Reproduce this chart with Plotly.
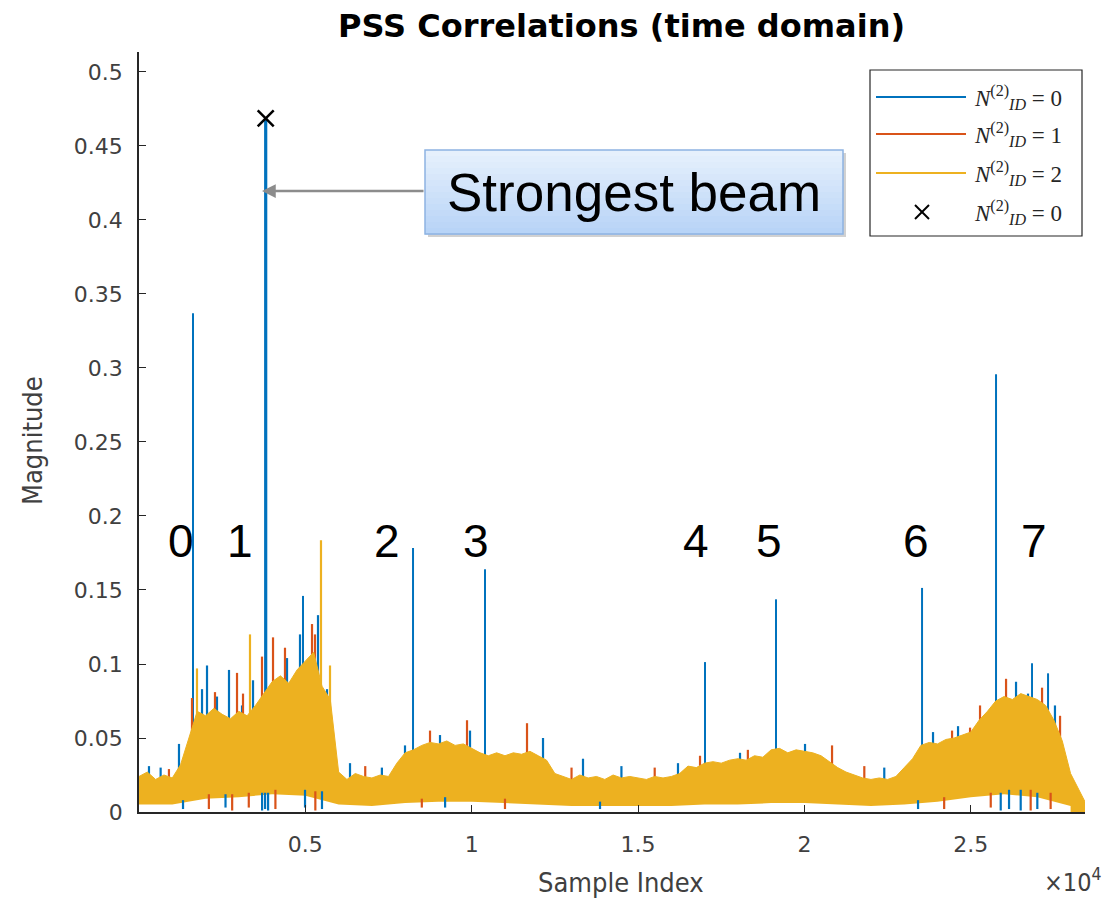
import plotly.graph_objects as go

# ---------------- data ----------------
body_x = list(range(0, 28501, 250))          # sample index grid of the dense band
body_upper = [
    0.024, 0.027, 0.022, 0.025, 0.023, 0.032, 0.050, 0.068, 0.065, 0.070,
    0.066, 0.063, 0.068, 0.065, 0.072, 0.080, 0.088, 0.092, 0.087, 0.096,
    0.102, 0.108, 0.085, 0.076, 0.027, 0.022, 0.026, 0.024, 0.023, 0.025,
    0.024, 0.033, 0.040, 0.042, 0.045, 0.047, 0.046, 0.048, 0.045, 0.046,
    0.043, 0.040, 0.038, 0.040, 0.038, 0.040, 0.039, 0.041, 0.038, 0.035,
    0.026, 0.024, 0.022, 0.025, 0.023, 0.024, 0.022, 0.025, 0.023, 0.024,
    0.023, 0.022, 0.024, 0.023, 0.024, 0.026, 0.031, 0.030, 0.033, 0.034,
    0.033, 0.035, 0.036, 0.035, 0.038, 0.037, 0.042, 0.043, 0.040, 0.042,
    0.041, 0.040, 0.038, 0.034, 0.030, 0.027, 0.025, 0.023, 0.022, 0.023,
    0.022, 0.024, 0.030, 0.036, 0.045, 0.047, 0.046, 0.049, 0.050, 0.052,
    0.054, 0.062, 0.068, 0.075, 0.078, 0.076, 0.080, 0.078, 0.076, 0.072,
    0.062, 0.048, 0.026, 0.015, 0.004,
]
lower_x = list(range(0, 28001, 1000))
body_lower = [
    0.005, 0.005, 0.009, 0.010, 0.012, 0.011, 0.005, 0.004, 0.006, 0.007,
    0.007, 0.006, 0.005, 0.004, 0.004, 0.004, 0.004, 0.005, 0.005, 0.006,
    0.006, 0.005, 0.004, 0.005, 0.007, 0.010, 0.012, 0.010, 0.004,
]

# correlation peaks of N_ID^(2) = 0 (blue)
spike_x = [1623, 4929, 8236, 10400, 17012, 19146, 23535, 25759, 26841, 27322]
spike_y = [0.337, 0.146, 0.1784, 0.164, 0.1013, 0.1437, 0.1514, 0.2958, 0.1005, 0.0937]
peak_x = [3808]
peak_y = [0.4687]

# small noise flecks poking above the band
blue_fleck_x = [300, 650, 1202, 1894, 2044, 2344, 2705, 3096, 3427, 4449, 4839, 5380, 5651,
                6342, 7300, 7995, 9047, 9949, 12143, 13345, 14500, 16200, 18064, 20018,
                22400, 23865, 24617, 26360, 26720, 27530]
blue_fleck_y = [0.031, 0.030, 0.046, 0.083, 0.099, 0.078, 0.096, 0.072, 0.089, 0.104, 0.120, 0.133, 0.083,
                0.033, 0.030, 0.045, 0.052, 0.055, 0.050, 0.036, 0.031, 0.033, 0.040, 0.046,
                0.030, 0.054, 0.058, 0.088, 0.080, 0.072]
orange_fleck_x = [900, 1593, 2284, 2946, 3126, 3697, 4028, 4388, 5200, 5290, 6800, 8747, 9859,
                  11662, 13000, 15500, 16862, 18300, 20830, 21800, 24437, 24978, 25278, 26060,
                  27142, 27683]
orange_fleck_y = [0.029, 0.077, 0.081, 0.094, 0.080, 0.105, 0.118, 0.111, 0.127, 0.120, 0.031, 0.055, 0.062,
                  0.060, 0.030, 0.030, 0.038, 0.042, 0.045, 0.031, 0.055, 0.057, 0.072, 0.090,
                  0.084, 0.065]
yellow_fleck_x = [1743, 3336, 5470, 5741]
yellow_fleck_y = [0.097, 0.120, 0.1836, 0.099]

# low excursions below the band
blue_dip_x = [1323, 2600, 3700, 3790, 3880, 4990, 5500, 9200, 13856, 23415, 25900, 26150, 26500, 27000]
blue_dip_y = [0.002, 0.003, 0.001, 0.002, 0.001, 0.003, 0.002, 0.003, 0.002, 0.002, 0.001, 0.002, 0.001, 0.002]
orange_dip_x = [2100, 2800, 3300, 4100, 5300, 8500, 11000, 24200, 25600, 26800, 27400]
orange_dip_y = [0.002, 0.001, 0.003, 0.002, 0.001, 0.003, 0.002, 0.002, 0.003, 0.001, 0.002]

beam_labels = ["0", "1", "2", "3", "4", "5", "6", "7"]
beam_label_x = [1262, 3036, 7454, 10129, 16742, 18936, 23355, 26901]
beam_label_y = 0.1834

x_tick_vals = [5000, 10000, 15000, 20000, 25000]
x_tick_text = ["0.5", "1", "1.5", "2", "2.5"]
y_tick_vals = [0, 0.05, 0.1, 0.15, 0.2, 0.25, 0.3, 0.35, 0.4, 0.45, 0.5]
y_tick_text = ["0", "0.05", "0.1", "0.15", "0.2", "0.25", "0.3", "0.35", "0.4", "0.45", "0.5"]

legend_names = ["<i>N</i><sup>(2)</sup><sub><i>ID</i></sub> = 0",
                "<i>N</i><sup>(2)</sup><sub><i>ID</i></sub> = 1",
                "<i>N</i><sup>(2)</sup><sub><i>ID</i></sub> = 2",
                "<i>N</i><sup>(2)</sup><sub><i>ID</i></sub> = 0"]

BLUE, ORANGE, YELLOW = "#0072BD", "#D95319", "#EDB120"

# ---------------- geometry helpers ----------------
W, H = 1108, 902
PL, PR, PT, PB = 139, 1085, 52, 812


def pxx(px):
    return (px - PL) / (PR - PL)


def pxy(py):
    return (PB - py) / (PB - PT)


def vlines(xs, y0s, y1s):
    X, Y = [], []
    for x, a, b in zip(xs, y0s, y1s):
        X += [x, x, None]
        Y += [a, b, None]
    return X, Y


def lower_at(s):
    return body_lower[min(int(s // 1000), len(body_lower) - 1)]


fig = go.Figure()

# peaks (drawn first, the band covers their base)
X, Y = vlines(spike_x, [0] * len(spike_x), spike_y)
fig.add_trace(go.Scatter(x=X, y=Y, mode="lines", line=dict(color=BLUE, width=2),
                         showlegend=False, hoverinfo="skip"))
X, Y = vlines(peak_x, [0] * len(peak_x), peak_y)
fig.add_trace(go.Scatter(x=X, y=Y, mode="lines", line=dict(color=BLUE, width=3.2),
                         showlegend=False, hoverinfo="skip"))

for fx, fy, col in [(blue_fleck_x, blue_fleck_y, BLUE),
                    (orange_fleck_x, orange_fleck_y, ORANGE),
                    (yellow_fleck_x, yellow_fleck_y, YELLOW)]:
    X, Y = vlines(fx, [0.01] * len(fx), fy)
    fig.add_trace(go.Scatter(x=X, y=Y, mode="lines", line=dict(color=col, width=2.2),
                             showlegend=False, hoverinfo="skip"))

# dense band
fig.add_trace(go.Scatter(x=body_x, y=body_upper, mode="lines",
                         line=dict(color=YELLOW, width=1), fill="tozeroy", fillcolor=YELLOW,
                         showlegend=False, hoverinfo="skip"))
fig.add_trace(go.Scatter(x=lower_x, y=body_lower, mode="lines",
                         line=dict(color="white", width=0), fill="tozeroy", fillcolor="white",
                         showlegend=False, hoverinfo="skip"))

for dx, dy, col in [(blue_dip_x, blue_dip_y, BLUE), (orange_dip_x, orange_dip_y, ORANGE)]:
    X, Y = vlines(dx, dy, [lower_at(s) + 0.003 for s in dx])
    fig.add_trace(go.Scatter(x=X, y=Y, mode="lines", line=dict(color=col, width=2.2),
                             showlegend=False, hoverinfo="skip"))

# detected peak marker
fig.add_trace(go.Scatter(x=peak_x, y=peak_y, mode="markers",
                         marker=dict(symbol="x-thin", size=16, line=dict(color="black", width=2.5)),
                         showlegend=False, hoverinfo="skip"))

shapes = []
annotations = []

# "Strongest beam" call-out box with vertical gradient
bx0, bx1, by0, by1 = 425, 843, 150, 234
shapes.append(dict(type="rect", xref="paper", yref="paper", x0=pxx(bx0 + 3), x1=pxx(bx1 + 3),
                   y0=pxy(by1 + 3), y1=pxy(by0 + 3), fillcolor="rgba(0,0,0,0.18)", line=dict(width=0)))
top_rgb, bot_rgb = (230, 240, 252), (184, 212, 247)
n_strips = 14
for i in range(n_strips):
    t = i / (n_strips - 1)
    c = tuple(int(round(a + (b - a) * t)) for a, b in zip(top_rgb, bot_rgb))
    ya = by0 + (by1 - by0) * i / n_strips
    yb = by0 + (by1 - by0) * (i + 1) / n_strips
    shapes.append(dict(type="rect", xref="paper", yref="paper", x0=pxx(bx0), x1=pxx(bx1),
                       y0=pxy(yb + 0.5), y1=pxy(ya), fillcolor="rgb(%d,%d,%d)" % c,
                       line=dict(width=0)))
shapes.append(dict(type="rect", xref="paper", yref="paper", x0=pxx(bx0), x1=pxx(bx1),
                   y0=pxy(by1), y1=pxy(by0), line=dict(color="#8DB3E2", width=1.5)))
annotations.append(dict(xref="paper", yref="paper", x=pxx((bx0 + bx1) / 2), y=pxy(193),
                        text="Strongest beam", showarrow=False, xanchor="center", yanchor="middle",
                        font=dict(family="Liberation Sans, Arial", size=53, color="black")))
annotations.append(dict(xref="paper", yref="paper", x=pxx(262), y=pxy(191), text="",
                        showarrow=True, ax=bx0 - 262, ay=0, axref="pixel", ayref="pixel",
                        arrowcolor="#8C8C8C", arrowwidth=2.5, arrowhead=2, arrowsize=1.1))

# manual legend (MATLAB style)
lx0, lx1, ly0, ly1 = 870, 1082, 70, 236
shapes.append(dict(type="rect", xref="paper", yref="paper", x0=pxx(lx0), x1=pxx(lx1),
                   y0=pxy(ly1), y1=pxy(ly0), fillcolor="white", line=dict(color="#262626", width=1.2)))
leg_rows = [97, 134, 173, 212]
for ry, col in zip(leg_rows[:3], [BLUE, ORANGE, YELLOW]):
    shapes.append(dict(type="line", xref="paper", yref="paper", x0=pxx(876), x1=pxx(966),
                       y0=pxy(ry), y1=pxy(ry), line=dict(color=col, width=1.8)))
mx, my, ms = 922, leg_rows[3], 7
shapes.append(dict(type="line", xref="paper", yref="paper", x0=pxx(mx - ms), x1=pxx(mx + ms),
                   y0=pxy(my - ms), y1=pxy(my + ms), line=dict(color="black", width=2)))
shapes.append(dict(type="line", xref="paper", yref="paper", x0=pxx(mx - ms), x1=pxx(mx + ms),
                   y0=pxy(my + ms), y1=pxy(my - ms), line=dict(color="black", width=2)))
for ry, name in zip(leg_rows, legend_names):
    annotations.append(dict(xref="paper", yref="paper", x=pxx(972), y=pxy(ry), text=name,
                            showarrow=False, xanchor="left", yanchor="middle",
                            font=dict(family="Liberation Serif, DejaVu Serif", size=23, color="#262626")))

# beam index labels
for lab, lxv in zip(beam_labels, beam_label_x):
    annotations.append(dict(xref="x", yref="y", x=lxv, y=beam_label_y, text=lab, showarrow=False,
                            xanchor="center", yanchor="middle",
                            font=dict(family="Liberation Sans, Arial", size=46, color="black")))

# title, axis titles, exponent
annotations.append(dict(xref="paper", yref="paper", x=pxx(621), y=pxy(26),
                        text="<b>PSS Correlations (time domain)</b>", showarrow=False,
                        xanchor="center", yanchor="middle",
                        font=dict(family="DejaVu Sans", size=32, color="black")))
annotations.append(dict(xref="paper", yref="paper", x=pxx(621), y=pxy(882), text="Sample Index",
                        showarrow=False, xanchor="center", yanchor="middle",
                        font=dict(family="DejaVu Sans Condensed, DejaVu Sans", size=27, color="#404040")))
annotations.append(dict(xref="paper", yref="paper", x=pxx(32), y=pxy(441), text="Magnitude",
                        showarrow=False, xanchor="center", yanchor="middle", textangle=-90,
                        font=dict(family="DejaVu Sans Condensed, DejaVu Sans", size=27, color="#404040")))
annotations.append(dict(xref="paper", yref="paper", x=pxx(1103), y=pxy(880), text="×10<sup>4</sup>",
                        showarrow=False, xanchor="right", yanchor="middle",
                        font=dict(family="DejaVu Sans Condensed, DejaVu Sans", size=25, color="#404040")))

axis_common = dict(showgrid=False, zeroline=False, showline=True, linecolor="#262626", linewidth=1.5,
                   ticks="inside", ticklen=7, tickwidth=1.3, tickcolor="#262626", mirror=False,
                   tickfont=dict(family="DejaVu Sans", size=22, color="#404040"))

fig.update_layout(
    width=W, height=H,
    margin=dict(l=PL, r=W - PR, t=PT, b=H - PB),
    paper_bgcolor="white", plot_bgcolor="white",
    showlegend=False,
    xaxis=dict(range=[0, 28433], tickmode="array", tickvals=x_tick_vals, ticktext=x_tick_text,
               ticklabelstandoff=12, **axis_common),
    yaxis=dict(range=[0, 0.5135], tickmode="array", tickvals=y_tick_vals, ticktext=y_tick_text,
               ticklabelstandoff=10, **axis_common),
    shapes=shapes,
    annotations=annotations,
)

fig.write_html("out.html")
